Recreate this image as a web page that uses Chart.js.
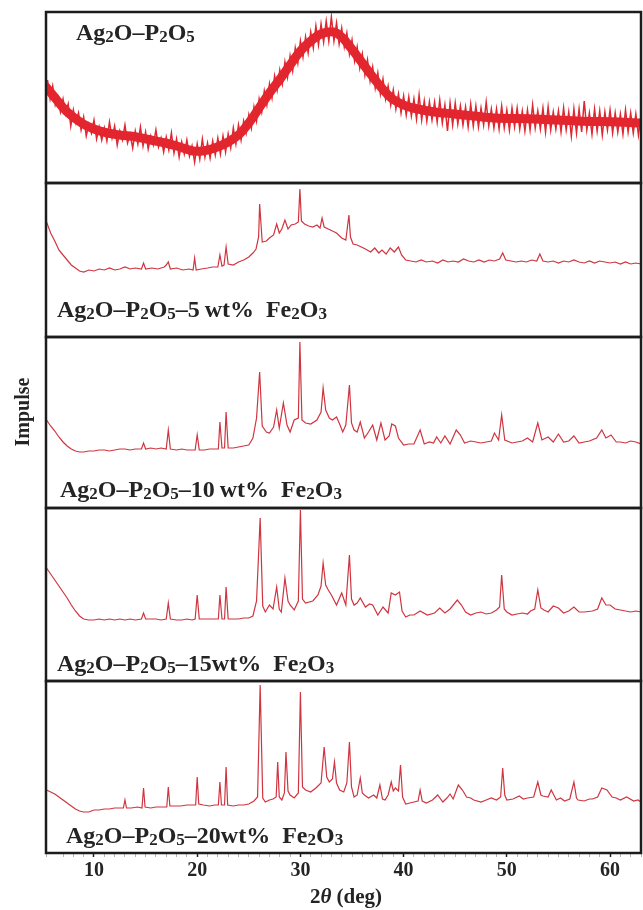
<!DOCTYPE html>
<html><head><meta charset="utf-8">
<script src="https://cdn.jsdelivr.net/npm/chart.js@4.4.1/dist/chart.umd.min.js"></script>
<style>html,body{margin:0;padding:0;background:#fff}canvas{display:block}</style>
</head><body>
<canvas id="c" width="643" height="910"></canvas>
<script>
// ---------- DATA ----------
const xTickLabels = [10, 20, 30, 40, 50, 60];
const panelLabels = [
  "Ag{2}O–P{2}O{5}",
  "Ag{2}O–P{2}O{5}–5\u2009wt%  Fe{2}O{3}",
  "Ag{2}O–P{2}O{5}–10\u2009wt%  Fe{2}O{3}",
  "Ag{2}O–P{2}O{5}–15wt%  Fe{2}O{3}",
  "Ag{2}O–P{2}O{5}–20wt%  Fe{2}O{3}"
];
const axisTitleY = "Impulse";
const axisTitleX = ["2", "θ", " (deg)"];

// Panel 1 (amorphous): noisy intensity sampled every 0.25° from 5.5° to 63°
const p1Start = 5.5, p1Step = 0.25;
const p1Counts = [
  103,84,
  97,78,86,71, 84,69,79,57, 73,60,70,53, 66,47,59,50, 63,44,56,43,
  55,42,61,45, 57,38,52,43, 58,40,49,35, 52,39,56,37, 51,34,47,38,
  53,36,45,31, 46,33,50,30, 44,26,41,29, 43,27,37,21, 39,24,44,26,
  40,25,42,28, 45,29,47,31, 49,35,55,39, 58,43,62,50, 68,55,76,62,
  84,71,92,78, 99,85,107,93, 113,99,121,106, 127,112,135,120, 142,126,146,130,
  151,135,157,138, 159,141,162,142, 166,142,160,139, 155,136,150,129, 143,122,136,115,
  129,108,123,102, 116,95,110,89, 104,84,97,78, 93,74,89,70, 87,68,86,67,
  84,64,88,63, 82,62,81,63, 81,61,83,60, 78,52,80,58, 80,59,77,58,
  76,56,79,57, 77,56,75,58, 81,57,74,55, 74,54,77,55, 73,53,75,56,
  75,54,72,52, 73,53,78,55, 72,54,75,51, 76,53,71,54, 72,51,75,53,
  71,47,74,50, 74,51,82,53, 70,49,74,52, 72,48,71,53, 73,50,70,51,
  69,49,73,51, 70,50,69,48,
  68
];
// Panel 1: centre of the noise band
const p1Band = [
  [5.35,96],[6,88],[7.3,72],[8.8,60],[10,54],[11.3,50],[12.5,48],[14.1,46],[15.5,43],[16.9,40],
  [18,37],[19.6,32],[20.5,32],[21.7,35],[23,41],[24.1,49],[25,60],[26,75],[27,90],[28.1,105],
  [29,118],[30,132],[31,142],[32,149],[33.2,151],[34,146],[34.9,135],[36,120],[36.8,109],[37.8,96],
  [38.8,85],[40,78],[40.9,75],[43,71],[44.9,69],[46.8,67],[48.8,65],[52.8,64],[56.8,62],[60.8,61],[63,60]
];

// Panels 2-5: [2θ, intensity]
const p2Points = [
  [5.4,115],[5.8,104],[6.2,96],[6.6,87],[7.0,82],[7.4,77],[7.8,72],[8.2,69],[8.6,66],[9.0,65],
  [9.5,67],[10.0,66],[10.5,68],[11.0,67],[11.5,69],[12.0,67],[12.5,68],[13.0,70],[13.5,68],[14.0,69],
  [14.6,68],[14.8,74],[15.0,68],[15.6,69],[16.2,68],[16.8,70],[17.0,72],[17.2,75],[17.4,68],[18.0,69],
  [18.6,67],[19.2,68],[19.6,67],[19.75,79],[19.9,67],[20.4,68],[21.0,69],[21.5,70],[22.0,70],[22.2,82],
  [22.4,71],[22.6,72],[22.8,90],[23.0,73],[23.5,72],[24.0,75],[24.5,77],[25.0,80],[25.4,84],[25.7,88],
  [25.95,100],[26.05,133],[26.3,95],[26.7,96],[27.0,99],[27.4,102],[27.7,113],[27.95,104],[28.2,108],[28.5,117],
  [28.8,108],[29.1,112],[29.5,113],[29.8,115],[29.95,148],[30.1,116],[30.4,113],[30.8,111],[31.2,110],[31.6,112],
  [31.9,109],[32.1,119],[32.3,110],[32.7,108],[33.1,106],[33.5,104],[34.0,99],[34.4,97],[34.7,122],[34.85,100],
  [35.1,93],[35.5,92],[35.9,90],[36.3,88],[36.8,85],[37.2,89],[37.6,84],[37.9,87],[38.3,83],[38.7,89],
  [39.1,85],[39.5,90],[39.8,82],[40.2,77],[40.7,76],[41.2,75],[41.7,77],[42.2,75],[42.8,76],[43.3,74],
  [43.8,77],[44.3,75],[44.8,76],[45.3,75],[45.8,78],[46.3,76],[46.8,75],[47.3,77],[47.8,75],[48.3,77],
  [48.8,76],[49.3,78],[49.6,84],[49.9,77],[50.4,76],[50.9,75],[51.4,76],[51.9,75],[52.4,77],[52.9,76],
  [53.2,83],[53.5,76],[54.0,75],[54.5,76],[55.0,74],[55.5,76],[56.0,75],[56.5,77],[57.0,75],[57.5,74],
  [58.0,76],[58.5,74],[59.0,76],[59.5,75],[60.0,74],[60.5,75],[61.0,73],[61.5,75],[62.0,73],[62.5,74],[63.0,73]
];
const p3Points = [
  [5.4,88],[5.8,82],[6.2,77],[6.6,71],[7.0,66],[7.4,62],[7.8,59],[8.2,57],[8.6,56],[9.0,56],
  [9.5,57],[10.0,57],[10.5,58],[11.0,58],[11.5,57],[12.0,58],[12.5,59],[13.0,59],[13.5,58],[14.0,59],
  [14.6,59],[14.8,65],[15.0,59],[15.5,60],[16.0,59],[16.5,60],[17.0,59],[17.2,78],[17.4,59],[18.0,58],
  [18.5,59],[19.0,58],[19.5,58],[19.8,58],[20.0,73],[20.2,58],[20.7,58],[21.2,59],[21.7,59],[22.05,59],
  [22.2,86],[22.4,60],[22.65,60],[22.8,96],[23.0,60],[23.5,60],[24.0,61],[24.5,62],[25.0,63],[25.4,70],
  [25.75,90],[26.05,136],[26.3,82],[26.7,76],[27.0,75],[27.4,81],[27.7,98],[27.95,80],[28.35,105],[28.7,83],
  [29.0,76],[29.4,88],[29.8,90],[29.95,166],[30.15,88],[30.5,85],[31.0,84],[31.6,88],[32.0,96],[32.2,120],
  [32.45,98],[32.8,90],[33.1,88],[33.5,91],[33.8,84],[34.1,76],[34.4,83],[34.75,123],[34.95,85],[35.2,78],
  [35.5,76],[35.8,86],[36.2,70],[36.6,76],[37.0,83],[37.4,68],[37.8,85],[38.2,68],[38.6,72],[38.85,84],
  [39.2,82],[39.5,70],[40.0,63],[40.5,64],[41.0,64],[41.6,78],[42.0,64],[42.5,66],[42.9,65],[43.2,71],
  [43.6,65],[44.0,72],[44.5,64],[45.1,78],[45.5,73],[45.9,65],[46.5,67],[47.0,66],[47.5,65],[48.0,66],
  [48.5,67],[48.8,75],[49.2,68],[49.5,93],[49.8,68],[50.5,65],[51.0,66],[51.5,67],[52.0,70],[52.5,66],
  [53.0,85],[53.4,68],[54.0,71],[54.5,66],[55.0,74],[55.5,66],[56.0,67],[56.5,72],[57.0,65],[57.5,66],
  [58.0,67],[58.7,70],[59.2,78],[59.6,70],[60.1,73],[60.6,66],[61.0,66],[61.5,65],[62.0,67],[62.5,66],[63.0,64]
];
const p4Points = [
  [5.4,113],[5.8,107],[6.2,101],[6.6,95],[7.0,89],[7.4,83],[7.8,76],[8.2,70],[8.6,65],[9.0,62],
  [9.5,61],[10.0,61],[10.5,62],[11.0,61],[11.5,62],[12.0,61],[12.5,62],[13.0,61],[13.5,62],[14.0,61],
  [14.6,62],[14.8,68],[15.0,62],[15.5,62],[16.0,62],[16.5,61],[17.0,62],[17.2,78],[17.4,62],[18.0,61],
  [18.5,61],[19.0,62],[19.5,61],[19.8,62],[20.0,86],[20.2,62],[20.7,62],[21.2,62],[21.7,62],[22.05,62],
  [22.2,86],[22.4,62],[22.65,62],[22.8,94],[23.0,62],[23.5,62],[24.0,62],[24.5,63],[25.0,63],[25.4,65],
  [25.75,80],[26.1,163],[26.35,75],[26.6,69],[27.0,76],[27.35,72],[27.7,94],[27.95,72],[28.15,69],[28.5,103],
  [28.8,80],[29.0,76],[29.4,71],[29.8,80],[30.0,171],[30.2,82],[30.5,78],[31.2,80],[31.7,86],[32.0,95],
  [32.2,118],[32.45,96],[32.7,91],[33.0,86],[33.5,76],[34.0,88],[34.4,76],[34.75,126],[34.95,82],[35.2,76],
  [35.5,78],[35.8,83],[36.3,74],[36.7,77],[37.0,76],[37.5,66],[38.0,74],[38.5,68],[38.8,88],[39.2,86],
  [39.6,89],[39.85,70],[40.2,64],[40.6,66],[41.0,66],[41.6,70],[42.3,66],[43.0,68],[43.5,73],[44.0,68],
  [44.5,72],[45.2,81],[45.6,76],[46.0,69],[46.5,66],[47.0,68],[47.5,69],[48.0,67],[48.5,68],[49.0,71],
  [49.3,74],[49.5,106],[49.75,72],[50.0,69],[50.5,66],[51.0,67],[51.5,68],[52.0,67],[52.3,70],[52.7,72],
  [53.0,91],[53.3,73],[53.6,71],[54.0,69],[54.5,75],[55.0,73],[55.5,68],[56.0,70],[56.5,74],[57.0,69],
  [57.5,69],[58.3,70],[58.8,72],[59.2,83],[59.6,76],[60.0,76],[60.5,72],[61.0,71],[61.5,70],[62.0,69],[62.5,70],[63.0,69]
];
const p5Points = [
  [5.4,63],[5.8,61],[6.2,59],[6.6,56],[7.0,53],[7.4,50],[7.8,47],[8.2,44],[8.6,42],[9.0,41],
  [9.5,41],[10.0,43],[10.5,43],[11.0,44],[11.5,44],[12.0,45],[12.5,45],[12.85,45],[13.0,53],[13.15,45],
  [13.6,45],[14.2,46],[14.65,45],[14.8,65],[14.95,46],[15.5,45],[16.0,46],[16.5,46],[17.05,46],[17.2,66],
  [17.35,47],[17.8,47],[18.4,47],[19.0,48],[19.5,48],[19.85,48],[20.0,76],[20.15,49],[20.6,48],[21.2,47],
  [21.7,48],[22.05,48],[22.2,71],[22.35,48],[22.65,48],[22.8,86],[22.95,48],[23.5,47],[24.0,48],[24.5,48],
  [25.0,49],[25.5,52],[25.85,56],[26.1,168],[26.35,55],[26.6,51],[27.0,53],[27.35,54],[27.65,56],[27.8,91],
  [27.95,56],[28.2,53],[28.45,60],[28.6,101],[28.8,62],[29.0,58],[29.4,55],[29.8,60],[30.0,161],[30.2,66],
  [30.5,63],[31.0,61],[31.5,65],[32.0,70],[32.3,106],[32.55,76],[32.8,71],[33.1,74],[33.3,91],[33.5,70],
  [33.8,63],[34.2,61],[34.5,70],[34.75,111],[34.95,66],[35.2,56],[35.5,58],[35.8,75],[36.0,60],[36.2,58],
  [36.6,55],[37.1,58],[37.4,55],[37.7,68],[37.95,54],[38.2,53],[38.5,58],[38.8,71],[39.0,62],[39.2,65],
  [39.5,62],[39.7,88],[39.9,56],[40.2,49],[40.6,50],[41.0,51],[41.4,52],[41.6,63],[41.8,52],[42.2,50],
  [42.8,53],[43.3,58],[43.8,51],[44.2,55],[44.5,59],[44.8,54],[45.3,68],[45.7,63],[46.1,56],[46.5,55],
  [46.8,53],[47.5,51],[48.0,53],[48.5,55],[49.0,53],[49.4,56],[49.6,85],[49.8,58],[50.0,53],[50.6,54],
  [51.2,57],[51.6,54],[52.0,55],[52.6,56],[53.0,71],[53.3,58],[53.5,57],[54.0,56],[54.3,63],[54.8,53],
  [55.2,55],[55.6,52],[56.1,54],[56.5,71],[56.75,55],[56.9,53],[57.5,52],[58.0,54],[58.3,54],[58.8,56],
  [59.2,65],[59.7,63],[60.2,56],[60.6,55],[61.0,53],[61.6,56],[62.3,52],[62.7,53],[63.0,51]
];
// intensity range of each panel (a.u.)
const panelMax = [171, 154, 171, 173, 172];
const xMin = 5.35, xMax = 63;

// ---------- BUILD ----------
const p1Points = p1Counts.map((v, i) => [p1Start + i * p1Step, v]);
const toXY = pts => pts.map(([x, y]) => ({ x, y }));

const serif = '"Liberation Serif", "Times New Roman", serif';
const textColor = '#242424';

const datasets = [
  { data: toXY(p1Points), yAxisID: 'y0', borderColor: '#de2730', borderWidth: 1.5, order: 1 },
  { data: toXY(p1Band), yAxisID: 'y0', borderColor: '#e8242c', borderWidth: 9, tension: 0.35, order: 2, borderCapStyle: 'round', borderJoinStyle: 'round' },
  { data: toXY(p2Points), yAxisID: 'y1', borderColor: '#cf3540', borderWidth: 1.2, order: 1 },
  { data: toXY(p3Points), yAxisID: 'y2', borderColor: '#cf3540', borderWidth: 1.2, order: 1 },
  { data: toXY(p4Points), yAxisID: 'y3', borderColor: '#cf3540', borderWidth: 1.2, order: 1 },
  { data: toXY(p5Points), yAxisID: 'y4', borderColor: '#cf3540', borderWidth: 1.2, order: 1 }
].map(d => Object.assign({ xAxisID: 'x', pointRadius: 0, fill: false, tension: 0 }, d));

const scales = {
  x: {
    type: 'linear', position: 'bottom', min: xMin, max: xMax,
    afterFit: s => { s.height = 57; },
    border: { display: false },
    grid: {
      drawOnChartArea: false, drawTicks: true, tickLength: 4,
      tickColor: c => (c.tick && c.tick.value % 10 === 0) ? '#222' : '#b5b5b5',
      tickWidth: c => (c.tick && c.tick.value % 10 === 0) ? 1.5 : 1
    },
    ticks: {
      stepSize: 1, autoSkip: false, maxRotation: 0, minRotation: 0, padding: 2,
      color: textColor, font: { family: serif, size: 20, weight: 'bold' },
      callback: v => xTickLabels.includes(v) ? String(v) : ''
    }
  }
};
// bottom panel defined first: the last defined left-stacked axis is placed at the top
for (let i = 4; i >= 0; i--) {
  scales['y' + i] = {
    type: 'linear', position: 'left', stack: 'xrd', stackWeight: panelMax[i],
    min: 0, max: panelMax[i], offset: false,
    ticks: { display: false }, grid: { display: false, drawTicks: false }, border: { display: false }
  };
}

function drawRich(ctx, str, x, y, size) {
  const parts = str.split(/(\{[^}]*\})/);
  let cx = x;
  ctx.textAlign = 'left';
  ctx.textBaseline = 'alphabetic';
  for (const p of parts) {
    if (!p) continue;
    if (p[0] === '{') {
      const t = p.slice(1, -1);
      ctx.font = `bold ${Math.round(size * 0.7)}px ${serif}`;
      ctx.fillText(t, cx, y + size * 0.08);
      cx += ctx.measureText(t).width;
    } else {
      ctx.font = `bold ${size}px ${serif}`;
      ctx.fillText(p, cx, y);
      cx += ctx.measureText(p).width;
    }
  }
  return cx - x;
}

const labelAnchor = [
  { x: 76, fromTop: 28 },
  { x: 57, fromBottom: 20 },
  { x: 60, fromBottom: 11 },
  { x: 57, fromBottom: 10 },
  { x: 66, fromBottom: 10 }
];

const decor = {
  id: 'decor',
  afterDraw(chart) {
    const ctx = chart.ctx, a = chart.chartArea;
    ctx.save();
    ctx.strokeStyle = '#1c1c1c';
    ctx.lineWidth = 2.5;
    for (let i = 0; i < 5; i++) {
      const s = chart.scales['y' + i];
      ctx.strokeRect(a.left, s.top, a.right - a.left, s.bottom - s.top);
    }
    ctx.fillStyle = textColor;
    for (let i = 0; i < 5; i++) {
      const s = chart.scales['y' + i];
      const an = labelAnchor[i];
      const y = an.fromTop !== undefined ? s.top + an.fromTop : s.bottom - an.fromBottom;
      drawRich(ctx, panelLabels[i], an.x, y, 24);
    }
    ctx.save();
    ctx.translate(29, 412);
    ctx.rotate(-Math.PI / 2);
    ctx.font = `bold 20px ${serif}`;
    ctx.textAlign = 'center';
    ctx.textBaseline = 'alphabetic';
    ctx.fillText(axisTitleY, 0, 0);
    ctx.restore();
    const fonts = [`bold 21px ${serif}`, `italic bold 21px ${serif}`, `bold 21px ${serif}`];
    let w = 0;
    axisTitleX.forEach((t, k) => { ctx.font = fonts[k]; w += ctx.measureText(t).width; });
    let cx = 346 - w / 2;
    ctx.textAlign = 'left';
    axisTitleX.forEach((t, k) => { ctx.font = fonts[k]; ctx.fillText(t, cx, 903); cx += ctx.measureText(t).width; });
    ctx.restore();
  }
};

new Chart(document.getElementById('c'), {
  type: 'line',
  data: { datasets },
  options: {
    responsive: false, animation: false,
    layout: { padding: { left: 46, right: 2, top: 12, bottom: 0 } },
    plugins: { legend: { display: false }, tooltip: { enabled: false } },
    scales
  },
  plugins: [decor]
});
</script>
</body></html>
